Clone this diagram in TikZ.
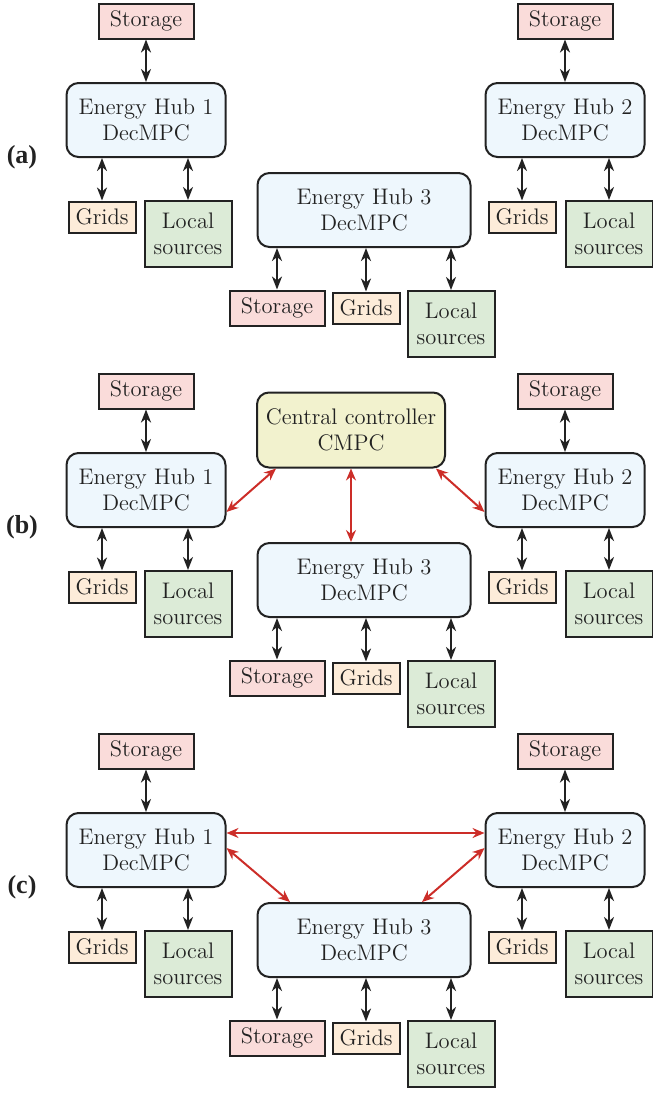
\documentclass[tikz,border=0pt]{standalone}
\usepackage{fontspec}
\newfontfamily\panelfont{Liberation Serif}
\usetikzlibrary{arrows.meta}
\definecolor{BoxLine}{HTML}{222222}
\definecolor{BoxText}{HTML}{222222}
\definecolor{HubFill}{HTML}{EEF7FD}
\definecolor{CtrlFill}{HTML}{F2F2CE}
\definecolor{StoreFill}{HTML}{FADCDA}
\definecolor{GridFill}{HTML}{FDECD9}
\definecolor{LocalFill}{HTML}{DCEBD7}
\definecolor{CommRed}{HTML}{CC2D28}
\tikzset{
  box/.style={draw=BoxLine,line width=1pt,text=BoxText,align=center,inner sep=0pt,
    font=\fontsize{11.25}{13}\selectfont},
  hub/.style={box,fill=HubFill,rounded corners=6pt,minimum width=79.5pt,minimum height=37pt},
  ctrl/.style={hub,fill=CtrlFill,minimum width=94pt,minimum height=37.5pt},
  storebox/.style={box,fill=StoreFill,minimum width=47.5pt,minimum height=17.5pt},
  gridbox/.style={box,fill=GridFill,minimum width=33.5pt,minimum height=15.5pt},
  localbox/.style={box,fill=LocalFill,minimum width=43.5pt,minimum height=33pt},
  link/.style={draw=BoxLine,line width=1.2pt,{Stealth[length=6.5pt,width=5pt,inset=2pt]}-{Stealth[length=6.5pt,width=5pt,inset=2pt]}},
  comm/.style={draw=CommRed,line width=1pt,{Stealth[length=6pt,width=5pt,inset=2pt]}-{Stealth[length=6pt,width=5pt,inset=2pt]}},
  panel/.style={font=\panelfont\bfseries\fontsize{13}{15}\selectfont,text=BoxLine}
}
\begin{document}
\begin{tikzpicture}[x=0.5pt,y=-0.5pt]
  \useasboundingbox (0,0) rectangle (653,1093);
  % three panels, same hubs and local devices
  \foreach \p/\oy in {a/0,b/370,c/730} {
    \node[panel] (lab\p) at (22,157+\oy) {(\p)};
    % hub 1
    \node[hub] (h1\p) at (146,120+\oy) {Energy Hub 1\\DecMPC};
    \node[storebox] (s1\p) at (146,21+\oy) {Storage};
    \node[gridbox] (g1\p) at (102,217+\oy) {Grids};
    \node[localbox] (l1\p) at (188,234+\oy) {Local\\sources};
    % hub 2
    \node[hub] (h2\p) at (565,120+\oy) {Energy Hub 2\\DecMPC};
    \node[storebox] (s2\p) at (565,21+\oy) {Storage};
    \node[gridbox] (g2\p) at (522,217+\oy) {Grids};
    \node[localbox] (l2\p) at (609,234+\oy) {Local\\sources};
    % hub 3
    \node[hub,minimum width=106.5pt] (h3\p) at (364,210+\oy) {Energy Hub 3\\DecMPC};
    \node[storebox] (s3\p) at (277,308+\oy) {Storage};
    \node[gridbox] (g3\p) at (366,308+\oy) {Grids};
    \node[localbox] (l3\p) at (451,324+\oy) {Local\\sources};
    \foreach \h in {1,2} {
      \draw[link] (s\h\p.south) -- (h\h\p.north);
      \draw[link] (g\h\p.north |- h\h\p.south) -- (g\h\p.north);
      \draw[link] (l\h\p.north |- h\h\p.south) -- (l\h\p.north);
    }
    \draw[link] (s3\p.north |- h3\p.south) -- (s3\p.north);
    \draw[link] (g3\p.north |- h3\p.south) -- (g3\p.north);
    \draw[link] (l3\p.north |- h3\p.south) -- (l3\p.north);
  }
  % (b) centralized
  \node[ctrl] (cc) at (351,430) {Central controller\\CMPC};
  \draw[comm] ([xshift=10pt]cc.south west) -- ([yshift=-11pt]h1b.east);
  \draw[comm] (cc.south) -- (h3b.north -| cc.south);
  \draw[comm] ([xshift=-5pt]cc.south east) -- ([yshift=-11pt]h2b.west);
  % (c) distributed
  \draw[comm] ([yshift=8.5pt]h1c.east) -- ([yshift=8.5pt]h2c.west);
  \draw[comm] ([yshift=1pt]h1c.east) -- ([xshift=-37pt]h3c.north);
  \draw[comm] ([xshift=29pt]h3c.north) -- ([yshift=1pt]h2c.west);
\end{tikzpicture}
\end{document}
